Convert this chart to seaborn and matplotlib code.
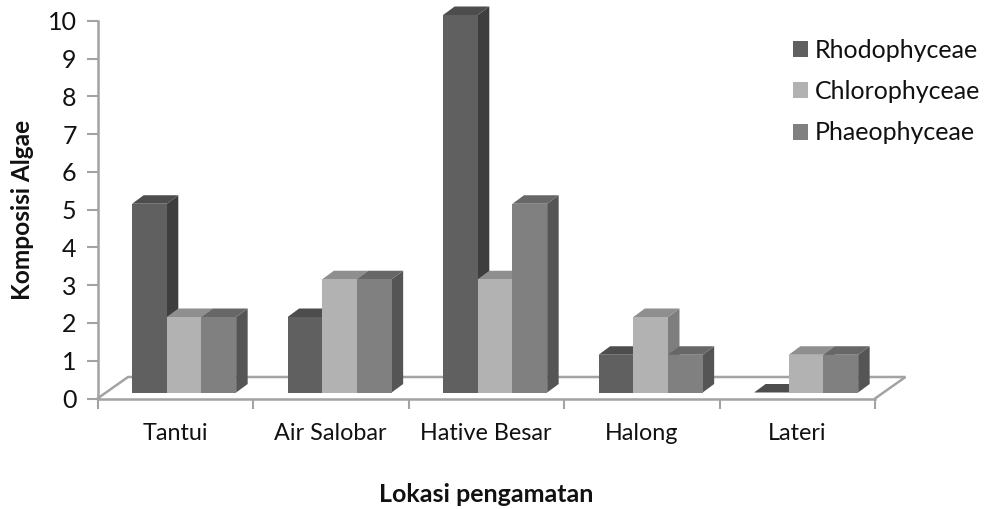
"""Bar chart of algae composition per location, drawn in the old spreadsheet 3D look."""

import matplotlib
matplotlib.use("Agg")
import matplotlib.pyplot as plt
import pandas as pd
import seaborn as sns
from matplotlib.patches import Polygon

lokasi = ["Tantui", "Air Salobar", "Hative Besar", "Halong", "Lateri"]
rhodophyceae = [5, 2, 10, 1, 0]
chlorophyceae = [2, 3, 3, 2, 1]
phaeophyceae = [2, 3, 5, 1, 1]
y_ticks = [0, 1, 2, 3, 4, 5, 6, 7, 8, 9, 10]

W, H = 992, 509
AXIS_GREY = "#a3a3a3"
# colour per series: front, top, side
COLORS = {
    "Rhodophyceae": ("#606060", "#4d4d4d", "#3e3e3e"),
    "Chlorophyceae": ("#b2b2b2", "#8f8f8f", "#7e7e7e"),
    "Phaeophyceae": ("#808080", "#676767", "#555555"),
}

df = pd.DataFrame({
    "lokasi": lokasi,
    "Rhodophyceae": rhodophyceae,
    "Chlorophyceae": chlorophyceae,
    "Phaeophyceae": phaeophyceae,
}).melt(id_vars="lokasi", var_name="kelas", value_name="jumlah")

sns.set_theme(style="white")
plt.rcParams["font.family"] = ["Lato", "DejaVu Sans"]


def px_axes(fig, left, right, top, bottom):
    """Axes placed by pixel edges, measured from the top left of the picture."""
    return fig.add_axes([left / W, 1 - bottom / H, (right - left) / W, (bottom - top) / H])


fig = plt.figure(figsize=(W / 100, H / 100), dpi=100, facecolor="white")

# back axes carries the scale, the ticks and the floor
ax = px_axes(fig, 97.5, 875, 21, 398.5)
ax.set_xlim(-0.5, len(lokasi) - 0.5)
ax.set_ylim(0, 10)
ax.set_xticks(range(len(lokasi)))
ax.set_xticklabels(lokasi, fontsize=16.8, color="#111111")
ax.set_xticks([i - 0.5 for i in range(len(lokasi) + 1)], minor=True)
ax.set_yticks(y_ticks)
ax.set_yticklabels(y_ticks, fontsize=18, color="#111111")
ax.tick_params(axis="x", which="major", length=0, pad=17.5)
ax.tick_params(axis="x", which="minor", length=7, width=1.5, color=AXIS_GREY, direction="out", bottom=True)
ax.tick_params(axis="y", length=8, width=1.5, color=AXIS_GREY, direction="out", left=True, pad=7)
for name, spine in ax.spines.items():
    spine.set_visible(name in ("left", "bottom"))
    spine.set_color(AXIS_GREY)
    spine.set_linewidth(1.8)
ax.set_xlabel("Lokasi pengamatan", fontsize=18, fontweight="bold", color="#111111", labelpad=28)
ax.set_ylabel("Komposisi Algae", fontsize=17.6, fontweight="bold", color="#111111", labelpad=10)

# floor outline, one category is 155.5 px and one unit 37.75 px
floor_dx, floor_dy = 30.5 / 155.5, 21.5 / 37.75
x0, x1 = ax.get_xlim()
ax.plot([x0, x0 + floor_dx, x1 + floor_dx, x1], [0, floor_dy, floor_dy, 0],
        color=AXIS_GREY, lw=1.8, clip_on=False, solid_joinstyle="miter")

# front axes holds the bars, shifted by the depth of the floor
front = px_axes(fig, 97.5 + 8.9, 875 + 8.9, 15, 392.5)
front.patch.set_alpha(0)
sns.barplot(data=df, x="lokasi", y="jumlah", hue="kelas", palette={k: v[0] for k, v in COLORS.items()},
            width=0.669, gap=0, saturation=1, linewidth=0, ax=front)
front.set_xlim(-0.5, len(lokasi) - 0.5)
front.set_ylim(0, 10)
front.set_axis_off()

depth_x, depth_y = 11.5 / 155.5, 8.5 / 37.75
for container, (kelas, shades) in zip(front.containers, COLORS.items()):
    for bar in container:
        left, right = bar.get_x(), bar.get_x() + bar.get_width()
        h = bar.get_height()
        # later bars sit on top of the side face of the ones to their left
        z = 3 + left * 10
        bar.set_zorder(z + 0.2)
        bar.set_clip_on(False)
        top = Polygon([(left, h), (left + depth_x, h + depth_y), (right + depth_x, h + depth_y), (right, h)],
                      closed=True, facecolor=shades[1], edgecolor="none", clip_on=False, zorder=z + 0.1)
        front.add_patch(top)
        if h > 0:
            side = Polygon([(right, 0), (right + depth_x, depth_y), (right + depth_x, h + depth_y), (right, h)],
                           closed=True, facecolor=shades[2], edgecolor="none", clip_on=False, zorder=z)
            front.add_patch(side)

handles, labels = front.get_legend_handles_labels()
front.legend_.remove()
fig.legend(handles, labels, loc="upper left", bbox_to_anchor=(785 / W, 1 - 31 / H), frameon=False,
           fontsize=18, handlelength=0.62, handleheight=0.62, handletextpad=0.26, labelspacing=0.74,
           labelcolor="#111111", borderpad=0.3, borderaxespad=0)

plt.savefig("out.png", dpi=100)
plt.close()
